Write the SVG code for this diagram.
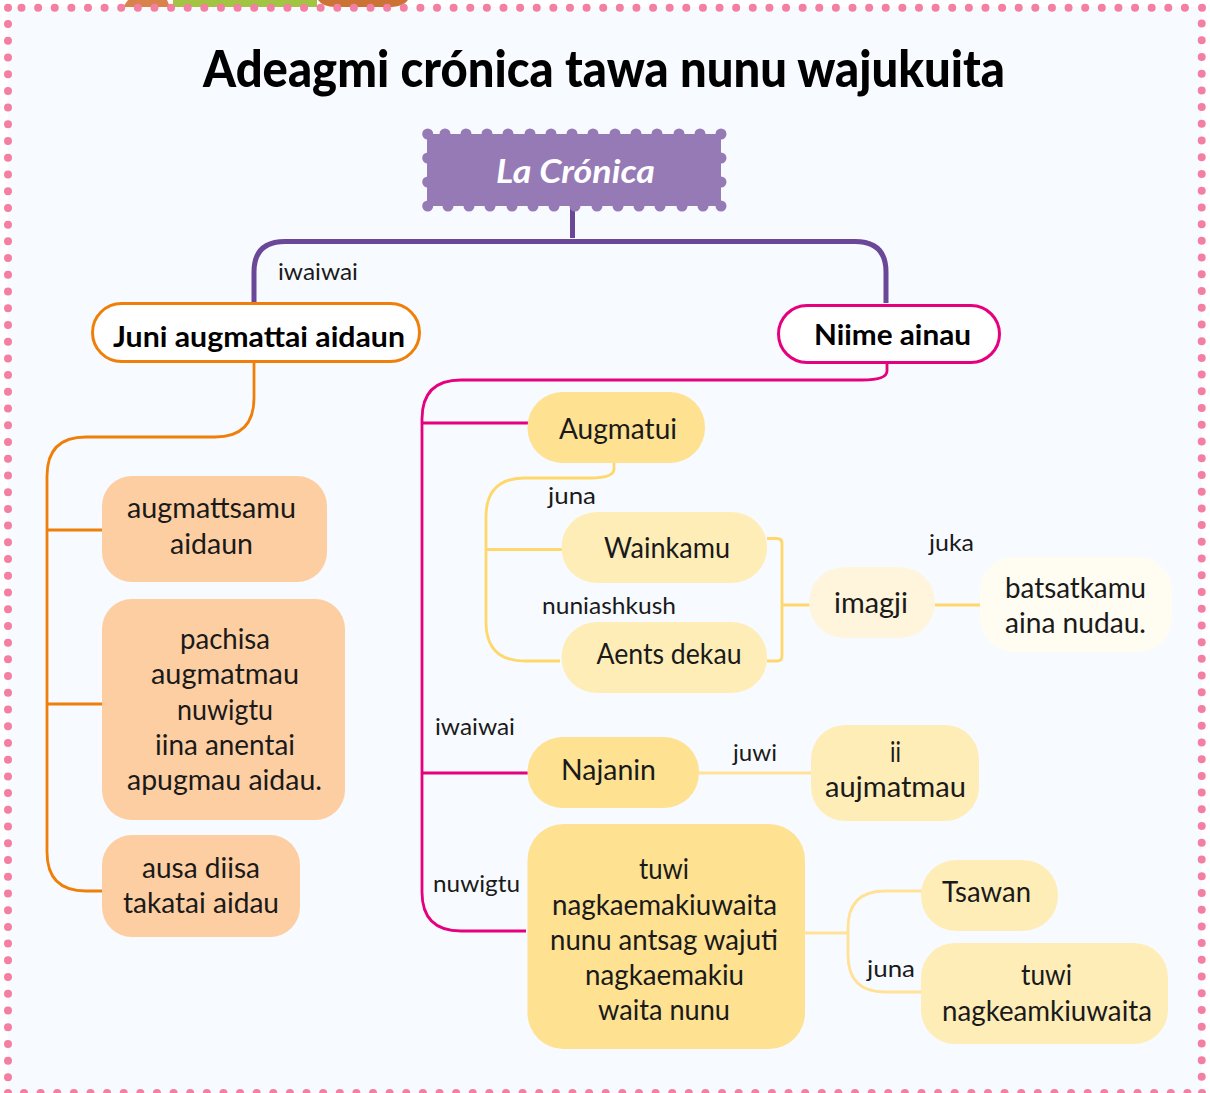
<svg xmlns="http://www.w3.org/2000/svg" width="1210" height="1093" viewBox="0 0 1210 1093">
<style>
text{font-family:"Lato","Noto Sans",sans-serif;fill:#1a1a1a}
.t{font-size:28px}
.l{font-size:24px}
.b{font-size:28px;font-weight:700;fill:#000}
.title{font-size:52px;font-weight:900;fill:#000}
.head{font-size:33px;font-style:italic;font-weight:700;fill:#fff}
.dh{stroke:#f37fa2;stroke-width:8;stroke-linecap:round;stroke-dasharray:0 16.62;fill:none}
.dv{stroke:#f37fa2;stroke-width:8;stroke-linecap:round;stroke-dasharray:0 16.72;fill:none}
.scal{stroke:#967ab6;stroke-width:11;stroke-linecap:round;fill:none}
.c{fill:none;stroke-width:2.8}
.o{stroke:#f07f09}.p{stroke:#e6007e}.y{stroke:#ffd76b}.y2{stroke:#ffe296}
.n1{fill:#fdcea1}.n2{fill:#fee191}.n3{fill:#ffedb8}.n4{fill:#fff5dd}.n5{fill:#fffcf1}
</style>
<rect width="1210" height="1093" fill="#fff"/>
<g id="photo-strip">
<path d="M128 0L123 7H170L167 0Z" fill="#d9824c"/>
<rect x="173" width="144" height="7" fill="#a3c443"/>
<path d="M318 0Q323 7 335 7H392Q404 6 408 0Z" fill="#cb7234"/>
</g>
<rect id="panel" x="8" y="7" width="1194" height="1086" fill="#f7fbff"/>
<g id="border">
<circle cx="8" cy="7.700" r="4" fill="#f37fa2"/>
<path class="dh" d="M21.500 7.700H1190"/>
<circle cx="1202" cy="7.700" r="4" fill="#f37fa2"/>
<path class="dv" d="M8 24V1085"/>
<path class="dv" d="M1201.700 23.500V1085"/>
<circle cx="8" cy="1093" r="4" fill="#f37fa2"/>
<path class="dh" d="M24 1093H1195"/>
<circle cx="1202" cy="1093" r="4" fill="#f37fa2"/>
</g>
<text class="title" x="203" y="87" textLength="802" lengthAdjust="spacingAndGlyphs">Adeagmi crónica tawa nunu wajukuita</text>
<g id="connectors">
<path fill="none" stroke="#6a4797" stroke-width="5" d="M572.500 206V238M254 303V272Q254 241.500 285 241.500H855Q886 241.500 886 272V303"/>
<path class="c o" d="M254 361V398Q254 437 215 437H86Q47 437 47 476V852Q47 891 86 891H103M47 530H103M47 704H103"/>
<path class="c p" d="M887 363V371Q887 380 862 380H461Q422 380 422 419V892Q422 931 461 931H526M422 423H528M422 773H528"/>
<path class="c y" d="M614 463V469Q614 478 590 478H525Q486 478 486 517V622Q486 661 525 661H560M486 549.500H563M767 538.500H777Q782 538.500 782 543.500V656Q782 661 777 661H767M782 605H810M935 605H981"/>
<path class="c y2" d="M699 773H812M805 933H848M929 891H885Q848 891 848 928V955Q848 992 885 992H927"/>
</g>
<g id="la-cronica">
<rect x="427" y="134" width="294" height="72" fill="#967ab6"/>
<path class="scal" d="M427.700 134h0M445 134h0M466 134h0M487 134h0M508 134h0M530 134h0M551 134h0M572 134h0M593 134h0M615 134h0M636 134h0M657 134h0M679 134h0M700 134h0M721 134h0M427.700 158h0M427.700 182h0M721 158h0M721 182h0M427.700 206h0M448 206h0M469 206h0M490 206h0M512 206h0M533 206h0M554 206h0M575 206h0M597 206h0M618 206h0M639 206h0M660 206h0M682 206h0M703 206h0M721 206h0"/>
<text class="head" x="496" y="183" textLength="159" lengthAdjust="spacingAndGlyphs">La Crónica</text>
</g>
<text class="l" x="278" y="280" textLength="80" lengthAdjust="spacingAndGlyphs">iwaiwai</text>
<g id="juni">
<rect x="92.500" y="303.500" width="327" height="58" rx="29" fill="#fff" stroke="#f07f09" stroke-width="3"/>
<text class="b" x="113" y="347" textLength="292" lengthAdjust="spacingAndGlyphs">Juni augmattai aidaun</text>
</g>
<g id="niime">
<rect x="778.500" y="305.500" width="221" height="57" rx="28.500" fill="#fff" stroke="#e6007e" stroke-width="3"/>
<text class="b" x="814" y="345" textLength="157" lengthAdjust="spacingAndGlyphs">Niime ainau</text>
</g>
<g id="o1"><rect class="n1" x="102" y="476" width="225" height="106" rx="30"/>
<text class="t" x="127" y="518" textLength="169" lengthAdjust="spacingAndGlyphs">augmattsamu</text>
<text class="t" x="170" y="554" textLength="83" lengthAdjust="spacingAndGlyphs">aidaun</text></g>
<g id="o2"><rect class="n1" x="102" y="599" width="243" height="221" rx="30"/>
<text class="t" x="180" y="649" textLength="90" lengthAdjust="spacingAndGlyphs">pachisa</text>
<text class="t" x="151" y="684" textLength="148" lengthAdjust="spacingAndGlyphs">augmatmau</text>
<text class="t" x="177" y="720" textLength="96" lengthAdjust="spacingAndGlyphs">nuwigtu</text>
<text class="t" x="155" y="755" textLength="140" lengthAdjust="spacingAndGlyphs">iina anentai</text>
<text class="t" x="127" y="790" textLength="195" lengthAdjust="spacingAndGlyphs">apugmau aidau.</text></g>
<g id="o3"><rect class="n1" x="102" y="835" width="198" height="102" rx="30"/>
<text class="t" x="142" y="878" textLength="118" lengthAdjust="spacingAndGlyphs">ausa diisa</text>
<text class="t" x="123" y="913" textLength="156" lengthAdjust="spacingAndGlyphs">takatai aidau</text></g>
<g id="augmatui"><rect class="n2" x="527.500" y="392" width="177.500" height="71" rx="35"/>
<text class="t" x="559" y="439" textLength="118" lengthAdjust="spacingAndGlyphs">Augmatui</text></g>
<text class="l" x="548" y="504" textLength="48" lengthAdjust="spacingAndGlyphs">juna</text>
<g id="wainkamu"><rect class="n3" x="561.500" y="512" width="205.500" height="71" rx="35"/>
<text class="t" x="604" y="558" textLength="126" lengthAdjust="spacingAndGlyphs">Wainkamu</text></g>
<text class="l" x="542" y="614" textLength="134" lengthAdjust="spacingAndGlyphs">nuniashkush</text>
<g id="aents"><rect class="n3" x="561.500" y="622" width="205.500" height="71" rx="35"/>
<text class="t" x="596.500" y="664" textLength="145" lengthAdjust="spacingAndGlyphs">Aents dekau</text></g>
<g id="imagji"><rect class="n4" x="809" y="567" width="126" height="71" rx="35"/>
<text class="t" x="834" y="613" textLength="74" lengthAdjust="spacingAndGlyphs">imagji</text></g>
<text class="l" x="929" y="551" textLength="45" lengthAdjust="spacingAndGlyphs">juka</text>
<g id="batsatkamu"><rect class="n5" x="980" y="557" width="192" height="95" rx="34"/>
<text class="t" x="1005" y="598" textLength="141" lengthAdjust="spacingAndGlyphs">batsatkamu</text>
<text class="t" x="1005" y="633" textLength="141" lengthAdjust="spacingAndGlyphs">aina nudau.</text></g>
<text class="l" x="435" y="735" textLength="80" lengthAdjust="spacingAndGlyphs">iwaiwai</text>
<g id="najanin"><rect class="n2" x="527.500" y="737" width="171.500" height="71" rx="35"/>
<text class="t" x="561" y="780" textLength="95" lengthAdjust="spacingAndGlyphs">Najanin</text></g>
<text class="l" x="733" y="761" textLength="44" lengthAdjust="spacingAndGlyphs">juwi</text>
<g id="ii"><rect class="n3" x="811" y="725" width="168" height="96" rx="34"/>
<text class="t" x="890" y="762" textLength="11" lengthAdjust="spacingAndGlyphs">ii</text>
<text class="t" x="825" y="797" textLength="141" lengthAdjust="spacingAndGlyphs">aujmatmau</text></g>
<text class="l" x="433" y="892" textLength="87" lengthAdjust="spacingAndGlyphs">nuwigtu</text>
<g id="tuwi"><rect class="n2" x="527.500" y="824" width="277.500" height="225" rx="36"/>
<text class="t" x="639" y="879" textLength="50" lengthAdjust="spacingAndGlyphs">tuwi</text>
<text class="t" x="552" y="915" textLength="225" lengthAdjust="spacingAndGlyphs">nagkaemakiuwaita</text>
<text class="t" x="550" y="950" textLength="228" lengthAdjust="spacingAndGlyphs">nunu antsag wajuti</text>
<text class="t" x="585" y="985" textLength="159" lengthAdjust="spacingAndGlyphs">nagkaemakiu</text>
<text class="t" x="598" y="1020" textLength="132" lengthAdjust="spacingAndGlyphs">waita nunu</text></g>
<g id="tsawan"><rect class="n3" x="921" y="860" width="137" height="71" rx="35"/>
<text class="t" x="942" y="902" textLength="89" lengthAdjust="spacingAndGlyphs">Tsawan</text></g>
<text class="l" x="867" y="977" textLength="48" lengthAdjust="spacingAndGlyphs">juna</text>
<g id="tuwi2"><rect class="n3" x="921" y="943" width="247" height="101" rx="34"/>
<text class="t" x="1021" y="985" textLength="51" lengthAdjust="spacingAndGlyphs">tuwi</text>
<text class="t" x="942" y="1021" textLength="210" lengthAdjust="spacingAndGlyphs">nagkeamkiuwaita</text></g>
</svg>
